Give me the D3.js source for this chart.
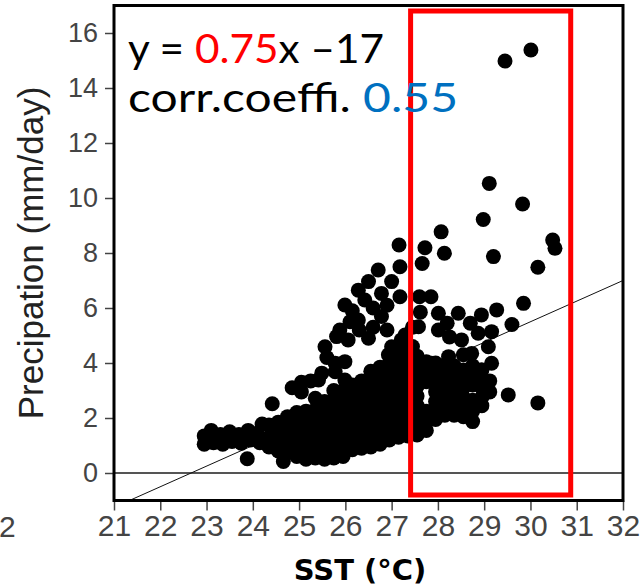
<!DOCTYPE html>
<html>
<head>
<meta charset="utf-8">
<script src="https://cdn.jsdelivr.net/npm/d3@7"></script>
<style>
  body { margin: 0; background: #fff; }
  .tick text { font-family: "Liberation Sans", Arial, sans-serif; fill: #444; }
  .tick line { stroke: #444; stroke-width: 1.5; }
</style>
</head>
<body>
<svg id="chart" width="640" height="586"></svg>
<script>
// SST (°C) vs precipitation (mm/day)
const tailPoints = [
  [22.95,1.05],[22.95,1.35],[23.1,1.55],[23.15,1.1],[23.3,1.4],[23.35,1.05],[23.5,1.5],
  [23.55,1.15],[23.7,1.4],[23.75,1.08],[23.9,1.55],[23.95,1.2],[24.1,1.45],[24.15,1.1],
  [24.2,1.78],[24.35,1.75],[23.88,0.52],[24.66,0.42],[24.42,2.52]
];

const coreColumns = [
  [24.35, [0.95,1.3]],
  [24.55, [0.8,1.15,1.5,1.85]],
  [24.75, [0.75,1.1,1.45,1.8,2.05]],
  [24.95, [0.6,0.95,1.3,1.65,2.0,2.2]],
  [25.15, [0.5,0.85,1.2,1.55,1.9,2.25]],
  [25.35, [0.55,0.9,1.25,1.6,1.95,2.3,2.72]],
  [25.55, [0.5,0.85,1.2,1.55,1.9,2.25,2.6]],
  [25.75, [0.55,0.9,1.25,1.6,1.95,2.3,2.65,3.0]],
  [25.95, [0.6,0.95,1.3,1.65,2.0,2.35,2.7,3.0]],
  [26.15, [0.85,1.2,1.55,1.9,2.25,2.6,2.95,3.2]],
  [26.35, [0.9,1.25,1.6,1.95,2.3,2.65,3.0,3.35]],
  [26.55, [0.95,1.3,1.65,2.0,2.35,2.7,3.05,3.4,3.7]],
  [26.75, [1.05,1.4,1.75,2.1,2.45,2.8,3.15,3.5,3.85]],
  [26.95, [1.2,1.55,1.9,2.25,2.6,2.95,3.3,3.65,4.0]],
  [27.15, [1.3,1.65,2.0,2.35,2.7,3.05,3.4,3.75,4.1]],
  [27.35, [1.35,1.7,2.05,2.4,2.75,3.1,3.45,3.8,4.15]],
  [27.55, [1.38,1.75,2.1,2.45,2.8,3.15,3.5,3.9,4.25]],
  [27.75, [1.55,1.9,2.25,3.32,3.7,4.05]],
  [27.95, [1.95,2.3,2.6,2.95,3.3,3.65,4.0]],
  [28.15, [2.1,2.45,2.8,3.15,3.5,3.93]],
  [28.35, [2.1,2.45,2.8,3.2,3.55,3.9]],
  [28.55, [2.05,2.4,2.75,3.1,3.45,3.75]],
  [28.75, [1.87,2.25,2.65,3.2,3.55,3.9]],
  [28.95, [2.45,2.75,3.1,3.45,3.75]],
  [29.12, [2.95,3.35]]
];

const armPoints = [
  [24.85,3.1],[25.05,3.3],[25.25,3.35],[25.42,3.38],[25.05,2.95],
  [25.49,3.63],[25.56,4.59],[25.6,4.2],[25.78,3.99],[25.78,3.68],[25.88,5.2],[25.81,4.96],
  [25.99,3.38],[25.99,4.05],[26.06,4.84],[25.99,6.11],[26.15,5.9],[26.1,5.5],[26.3,5.2],
  [26.28,5.56],[26.28,6.65],[26.42,6.29],[26.5,6.96],[26.5,4.9],[26.6,5.3],[26.71,7.38],
  [26.78,6.53],[26.78,5.69],[26.6,6.0],[26.9,6.1],[27.0,6.96],[27.18,7.5],[27.18,6.41],
  [26.9,5.2],[27.0,4.59],[27.21,4.84],[27.29,5.02],[26.93,4.3],[27.2,4.45]
];

const warmPoints = [
  [27.6,6.41],[27.85,6.41],[27.58,5.32],[27.62,5.85],[28.01,5.81],[28.01,5.2],[28.44,5.81],
  [28.94,5.75],[29.27,5.93],[29.6,5.4],[28.2,5.45],[28.25,4.95],[28.51,4.84],[28.87,5.08],
  [29.16,5.14],[29.09,4.59],[28.73,4.35],[29.16,3.99],[28.94,3.75],[28.23,4.23],[27.86,3.99],
  [28.55,4.3],[27.45,4.6],[27.45,5.3],[28.7,5.45]
];

const outlierPoints = [
  [27.16,8.29],[27.72,8.19],[28.07,8.77],[28.14,7.99],[27.66,7.62],[29.2,7.87],
  [29.11,10.53],[29.83,9.78],[28.98,9.22],[30.48,8.47],[30.53,8.17],[30.16,7.48],
  [29.85,6.17],[29.45,14.98],[30.01,15.38],[29.52,2.84],[30.16,2.55]
];

const xTicks = [21, 22, 23, 24, 25, 26, 27, 28, 29, 30, 31, 32];
const yTicks = [0, 2, 4, 6, 8, 10, 12, 14, 16];
const slope = 0.75;
const intercept = -17;
const corr = 0.55;
const boxX = [27.41, 30.87];
const boxY = [-0.8, 16.8];

const points = [
  ...tailPoints,
  ...coreColumns.flatMap(([x, ys]) => ys.map(y => [x, y])),
  ...armPoints,
  ...warmPoints,
  ...outlierPoints
];

const svg = d3.select('#chart');

const xScale = d3.scaleLinear().domain([21, 32]).range([114, 623]);
const yScale = d3.scaleLinear().domain([-1, 17]).range([500.5, 5.5]);

// y axis ticks
svg.append('g')
  .attr('transform', 'translate(114,0)')
  .call(d3.axisLeft(yScale).tickValues(yTicks).tickSize(9).tickPadding(7))
  .call(g => g.select('.domain').remove())
  .selectAll('text').attr('font-size', 27);

// x axis ticks
svg.append('g')
  .attr('transform', 'translate(0,500.5)')
  .call(d3.axisBottom(xScale).tickValues(xTicks).tickSize(10).tickPadding(4))
  .call(g => g.select('.domain').remove())
  .selectAll('text').attr('font-size', 30);

// leftover label of the neighbouring panel
svg.append('text')
  .attr('x', -1).attr('y', 537)
  .attr('font-family', '"Liberation Sans", Arial, sans-serif')
  .attr('font-size', 30).attr('fill', '#444')
  .text('2');

// zero line
svg.append('line')
  .attr('x1', xScale(21)).attr('x2', xScale(32))
  .attr('y1', yScale(0)).attr('y2', yScale(0))
  .attr('stroke', '#555').attr('stroke-width', 2);

// regression line
const x0 = (-1 - intercept) / slope;
svg.append('line')
  .attr('x1', xScale(x0)).attr('y1', yScale(slope * x0 + intercept))
  .attr('x2', xScale(32)).attr('y2', yScale(slope * 32 + intercept))
  .attr('stroke', '#111').attr('stroke-width', 1);

// dots
svg.append('g')
  .selectAll('circle')
  .data(points)
  .join('circle')
  .attr('cx', d => xScale(d[0]))
  .attr('cy', d => yScale(d[1]))
  .attr('r', 7.5)
  .attr('fill', '#000');

// frame
svg.append('rect')
  .attr('x', xScale(21)).attr('y', yScale(17))
  .attr('width', xScale(32) - xScale(21))
  .attr('height', yScale(-1) - yScale(17))
  .attr('fill', 'none').attr('stroke', '#000').attr('stroke-width', 3);

// red box
svg.append('rect')
  .attr('x', xScale(boxX[0])).attr('y', yScale(boxY[1]))
  .attr('width', xScale(boxX[1]) - xScale(boxX[0]))
  .attr('height', yScale(boxY[0]) - yScale(boxY[1]))
  .attr('fill', 'none').attr('stroke', '#ff0000').attr('stroke-width', 5);

// annotation
const font = '"Comic Sans MS", Lato, sans-serif';
const line1 = svg.append('text')
  .attr('x', 128).attr('y', 63)
  .attr('font-family', font).attr('font-size', 40)
  .attr('textLength', 256).attr('lengthAdjust', 'spacingAndGlyphs');
line1.append('tspan').text('y = ');
line1.append('tspan').attr('fill', '#ff0000').text(slope.toFixed(2));
line1.append('tspan').text('x \u201317');

const line2 = svg.append('text')
  .attr('x', 128).attr('y', 112)
  .attr('font-family', font).attr('font-size', 40)
  .attr('textLength', 330).attr('lengthAdjust', 'spacingAndGlyphs');
line2.append('tspan').text('corr.coeffi. ');
line2.append('tspan').attr('fill', '#0070c0').text(corr.toFixed(2));

// axis titles
svg.append('text')
  .attr('transform', 'translate(43,253) rotate(-90)')
  .attr('text-anchor', 'middle')
  .attr('font-family', '"Liberation Sans", Arial, sans-serif')
  .attr('font-size', 35).attr('fill', '#222')
  .text('Precipation (mm/day)');

svg.append('text')
  .attr('x', 360).attr('y', 580)
  .attr('text-anchor', 'middle')
  .attr('font-family', '"DejaVu Sans", sans-serif')
  .attr('font-weight', 'bold').attr('font-size', 29)
  .text('SST (\u00B0C)');
</script>
</body>
</html>
